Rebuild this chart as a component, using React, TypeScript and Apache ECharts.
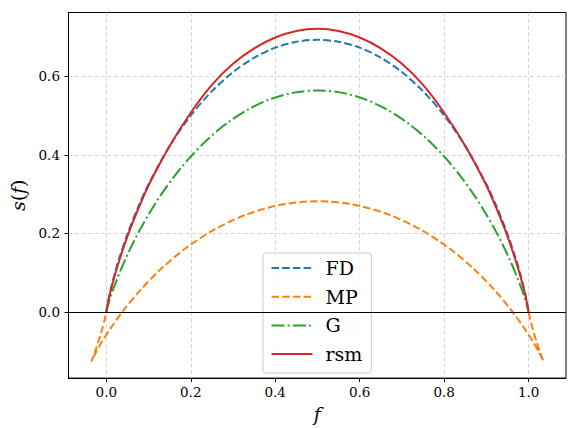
import React, { useEffect, useRef } from "react";
import * as echarts from "echarts";

// ---- data ----
const fdF = [0, 0.002, 0.005, 0.01, 0.02, 0.03, 0.05, 0.075, 0.1, 0.15, 0.2, 0.25, 0.3, 0.35, 0.4, 0.45, 0.5,
  0.55, 0.6, 0.65, 0.7, 0.75, 0.8, 0.85, 0.9, 0.925, 0.95, 0.97, 0.98, 0.99, 0.995, 0.998, 1];
const fdS = [0, 0.0144, 0.0315, 0.056, 0.098, 0.1347, 0.1985, 0.2664, 0.3251, 0.4227, 0.5004, 0.5623, 0.6109, 0.6474, 0.673, 0.6881, 0.6931,
  0.6881, 0.673, 0.6474, 0.6109, 0.5623, 0.5004, 0.4227, 0.3251, 0.2664, 0.1985, 0.1347, 0.098, 0.056, 0.0315, 0.0144, 0];

const mpF = [1.0001, 1.0007, 1.0018, 1.004, 1.008, 1.0109, 1.0144, 1.0186, 1.0231, 1.0277, 1.0318, 1.0347, 1.0355, 1.0345, 1.0326, 1.0251,
  1.0114, 0.99, 0.9599, 0.92, 0.8701, 0.8104, 0.7417, 0.6656, 0.5842, 0.5,
  0.4158, 0.3344, 0.2583, 0.1896, 0.1299, 0.08, 0.0401, 0.01, -0.0114, -0.0251, -0.0326, -0.0345, -0.0355, -0.0347, -0.0318,
  -0.0277, -0.0231, -0.0186, -0.0144, -0.0109, -0.008, -0.004, -0.0018, -0.0007, -0.0001];
const mpS = [-0.0006, -0.0041, -0.0094, -0.0194, -0.0362, -0.0475, -0.0605, -0.0749, -0.0898, -0.1041, -0.116, -0.1239, -0.1259, -0.1237, -0.1195, -0.1038,
  -0.0778, -0.0417, 0.0035, 0.0551, 0.1099, 0.1635, 0.2114, 0.2493, 0.2737, 0.2821,
  0.2737, 0.2493, 0.2114, 0.1635, 0.1099, 0.0551, 0.0035, -0.0417, -0.0778, -0.1038, -0.1195, -0.1237, -0.1259, -0.1239, -0.116,
  -0.1041, -0.0898, -0.0749, -0.0605, -0.0475, -0.0362, -0.0194, -0.0094, -0.0041, -0.0006];

const gF = [0, 0.0001, 0.0004, 0.0009, 0.0023, 0.0036, 0.0055, 0.0081, 0.0118, 0.017, 0.0239, 0.033, 0.0449, 0.0599, 0.0787, 0.1016,
  0.129, 0.1611, 0.1981, 0.2398, 0.2858, 0.3357, 0.3887, 0.4438, 0.5,
  0.5562, 0.6113, 0.6643, 0.7142, 0.7602, 0.8019, 0.8389, 0.871, 0.8984, 0.9213, 0.9401, 0.9551, 0.967, 0.9761, 0.983, 0.9882,
  0.9919, 0.9945, 0.9964, 0.9977, 0.9991, 0.9996, 0.9999, 1];
const gS = [0, 0.0007, 0.0018, 0.0045, 0.0103, 0.0153, 0.0221, 0.0314, 0.0436, 0.0595, 0.0795, 0.1041, 0.1337, 0.1682, 0.2076, 0.251,
  0.2975, 0.3456, 0.3936, 0.4394, 0.4808, 0.5156, 0.5421, 0.5586, 0.5642,
  0.5586, 0.5421, 0.5156, 0.4808, 0.4394, 0.3936, 0.3456, 0.2975, 0.251, 0.2076, 0.1682, 0.1337, 0.1041, 0.0795, 0.0595, 0.0436,
  0.0314, 0.0221, 0.0153, 0.0103, 0.0045, 0.0018, 0.0007, 0];

const rsmF = [0, 0.002, 0.005, 0.01, 0.02, 0.03, 0.05, 0.075, 0.1, 0.15, 0.2, 0.25, 0.3, 0.35, 0.4, 0.45, 0.5,
  0.55, 0.6, 0.65, 0.7, 0.75, 0.8, 0.85, 0.9, 0.925, 0.95, 0.97, 0.98, 0.99, 0.995, 0.998, 1];
const rsmS = [0, 0.012, 0.0285, 0.052, 0.093, 0.1287, 0.1925, 0.2604, 0.3221, 0.4227, 0.5074, 0.5783, 0.6319, 0.6714, 0.699, 0.7156, 0.7211,
  0.7156, 0.699, 0.6714, 0.6319, 0.5783, 0.5074, 0.4227, 0.3221, 0.2604, 0.1925, 0.1287, 0.093, 0.052, 0.0285, 0.012, 0];

const xTicks = [0, 0.2, 0.4, 0.6, 0.8, 1.0];
const yTicks = [0, 0.2, 0.4, 0.6];

const zip = (a: number[], b: number[]) => a.map((v, i) => [v, b[i]]);

const FONT = "DejaVu Serif";

export default function App() {
  const ref = useRef<HTMLDivElement>(null);
  useEffect(() => {
    if (!ref.current) return;
    const chart = echarts.init(ref.current, null, { renderer: "svg" });
    const isTick = (v: number, ticks: number[]) => ticks.some((t) => Math.abs(t - v) < 1e-6);
    const lw = 2;
    const dash = [7.5, 3.2];
    const dashDot = [13, 3.2, 2, 3.2];
    chart.setOption({
      animation: false,
      backgroundColor: "#ffffff",
      grid: {
        left: 68.5, top: 12.5, right: 3, bottom: 45,
        show: true, borderColor: "#000", borderWidth: 1, backgroundColor: "transparent",
      },
      xAxis: {
        type: "value", min: -0.0895, max: 1.0885,
        name: "f", nameLocation: "middle", nameGap: 20,
        nameTextStyle: { fontFamily: FONT, fontStyle: "italic", fontSize: 19, color: "#000" },
        axisLine: { show: true, onZero: false, lineStyle: { color: "#000", width: 1 } },
        axisTick: { show: true, length: 4, lineStyle: { color: "#000", width: 1 }, customValues: xTicks },
        axisLabel: {
          show: true, margin: 7, fontFamily: FONT, fontSize: 13.5, color: "#000", customValues: xTicks,
          formatter: (v: number) => (isTick(v, xTicks) ? v.toFixed(1) : ""),
        },
        splitLine: { show: true, lineStyle: { color: "#cfcfcf", width: 0.9, type: [4, 2.5] } },
      },
      yAxis: {
        type: "value", min: -0.1683, max: 0.7626,
        name: "{i|s}{n|(}{i|f}{n|)}", nameLocation: "middle", nameGap: 34, nameRotate: 90,
        nameTextStyle: {
          color: "#000",
          rich: {
            i: { fontFamily: FONT, fontStyle: "italic", fontSize: 19, color: "#000" },
            n: { fontFamily: FONT, fontSize: 19, color: "#000" },
          },
        },
        axisLine: { show: true, onZero: false, lineStyle: { color: "#000", width: 1 } },
        axisTick: { show: true, length: 4, lineStyle: { color: "#000", width: 1 }, customValues: yTicks },
        axisLabel: {
          show: true, margin: 8.5, fontFamily: FONT, fontSize: 13.5, color: "#000", customValues: yTicks,
          formatter: (v: number) => (isTick(v, yTicks) ? v.toFixed(1) : ""),
        },
        splitLine: { show: true, lineStyle: { color: "#cfcfcf", width: 0.9, type: [4, 2.5] } },
      },
      legend: {
        orient: "vertical", left: 263, top: 253,
        itemWidth: 41, itemHeight: 14, itemGap: 6.7,
        padding: [4, 9, 8, 7.5],
        backgroundColor: "rgba(255,255,255,0.8)", borderColor: "#cccccc", borderWidth: 1, borderRadius: 3,
        itemStyle: { opacity: 0 },
        textStyle: { fontFamily: FONT, fontSize: 19, color: "#000", lineHeight: 22, padding: [0, 0, 0, 8] },
        data: ["FD", "MP", "G", "rsm"],
      },
      series: [
        {
          name: "FD", type: "line", data: zip(fdF, fdS), showSymbol: false, symbol: "none", smooth: 0.3,
          lineStyle: { color: "#1f77b4", width: lw, type: dash }, itemStyle: { color: "#1f77b4" }, z: 3,
          markLine: {
            silent: true, symbol: "none", label: { show: false },
            lineStyle: { color: "#000", type: "solid", width: 1 },
            data: [{ yAxis: 0 }],
          },
        },
        {
          name: "MP", type: "line", data: zip(mpF, mpS), showSymbol: false, symbol: "none", smooth: 0.3,
          lineStyle: { color: "#ff7f0e", width: lw, type: dash }, itemStyle: { color: "#ff7f0e" }, z: 3,
        },
        {
          name: "G", type: "line", data: zip(gF, gS), showSymbol: false, symbol: "none", smooth: 0.3,
          lineStyle: { color: "#2ca02c", width: lw, type: dashDot }, itemStyle: { color: "#2ca02c" }, z: 3,
        },
        {
          name: "rsm", type: "line", data: zip(rsmF, rsmS), showSymbol: false, symbol: "none", smooth: 0.3,
          lineStyle: { color: "#d62728", width: lw, type: "solid" }, itemStyle: { color: "#d62728" }, z: 3,
        },
      ],
    });
    return () => chart.dispose();
  }, []);
  return <div ref={ref} style={{ position: "fixed", left: 0, top: 0, width: 569, height: 428 }} />;
}
